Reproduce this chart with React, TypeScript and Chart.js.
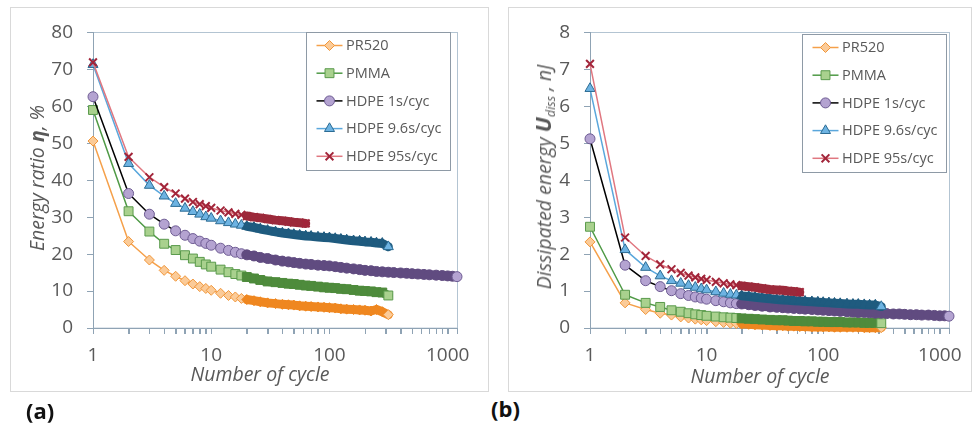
import React, { useEffect, useRef } from "react";
import { Chart, registerables } from "chart.js";
import { drawPoint } from "chart.js/helpers";

Chart.register(...registerables);

// ---------------- DATA ----------------
const SERIES_NAMES = ["PR520", "PMMA", "HDPE 1s/cyc", "HDPE 9.6s/cyc", "HDPE 95s/cyc"];

const CYCLES = [1, 2, 3, 4, 5, 6, 7, 8, 9, 10, 12, 14, 16, 18, 20, 23, 26, 30, 35, 40, 45, 50, 56, 63, 70, 80, 90, 100,
  112, 125, 140, 160, 180, 200, 225, 250, 280, 315, 350, 400, 450, 500, 560, 630, 700, 800, 900, 1000, 1100, 1200];

// Panel (a): energy ratio, %
const ETA_PR520 = [50.6, 23.4, 18.4, 15.6, 14.0, 12.8, 11.9, 11.2, 10.7, 10.2, 9.4, 8.8, 8.4, 8.0, 7.7, 7.4, 7.1, 6.8,
  6.6, 6.4, 6.3, 6.2, 6.0, 5.9, 5.8, 5.7, 5.6, 5.5, 5.4, 5.2, 5.1, 5.0, 4.9, 4.8, 4.6, 5.0, 4.4, 3.6];
const ETA_PMMA = [59.0, 31.6, 26.1, 22.8, 21.1, 19.7, 18.8, 17.9, 17.2, 16.6, 15.8, 15.1, 14.6, 14.2, 13.8, 13.4, 13.0,
  12.6, 12.4, 12.2, 12.0, 11.9, 11.7, 11.5, 11.4, 11.2, 11.0, 10.9, 10.8, 10.6, 10.5, 10.3, 10.1, 10.0, 9.9, 9.7, 9.6, 8.8];
const ETA_HDPE_1 = [62.6, 36.4, 30.8, 28.1, 26.3, 25.1, 24.2, 23.5, 22.9, 22.4, 21.6, 21.0, 20.5, 20.1, 19.8, 19.5, 19.1,
  18.8, 18.4, 18.1, 17.9, 17.7, 17.5, 17.3, 17.2, 17.0, 16.9, 16.8, 16.6, 16.4, 16.2, 16.0, 15.8, 15.6, 15.5, 15.3, 15.2,
  15.1, 15.0, 14.9, 14.8, 14.7, 14.6, 14.5, 14.4, 14.3, 14.2, 14.1, 14.0, 13.9];
const ETA_HDPE_96 = [71.3, 44.5, 38.6, 35.7, 33.7, 32.4, 31.5, 30.8, 30.1, 29.7, 29.0, 28.5, 28.1, 27.8, 27.5, 27.2, 26.8,
  26.4, 26.0, 25.7, 25.5, 25.3, 25.1, 24.9, 24.8, 24.6, 24.5, 24.4, 24.2, 24.0, 23.8, 23.6, 23.5, 23.3, 23.2, 23.0, 22.9, 22.0];
const ETA_HDPE_95 = [71.9, 46.3, 40.8, 38.1, 36.4, 35.0, 34.1, 33.5, 33.0, 32.5, 31.8, 31.3, 30.9, 30.6, 30.3, 30.0, 29.8,
  29.5, 29.2, 29.0, 28.8, 28.6, 28.5, 28.3];

// Panel (b): dissipated energy, nJ
const U_PR520 = [2.33, 0.68, 0.50, 0.40, 0.35, 0.30, 0.27, 0.24, 0.22, 0.20, 0.17, 0.15, 0.13, 0.12, 0.11, 0.10, 0.09, 0.08,
  0.07, 0.06, 0.06, 0.05, 0.05, 0.04, 0.04, 0.03, 0.03, 0.03, 0.03, 0.02, 0.02, 0.02, 0.02, 0.02, 0.01, 0.01, 0.01, 0.01];
const U_PMMA = [2.74, 0.90, 0.68, 0.57, 0.48, 0.44, 0.40, 0.37, 0.35, 0.33, 0.31, 0.29, 0.28, 0.27, 0.26, 0.25, 0.24, 0.23,
  0.22, 0.21, 0.21, 0.20, 0.19, 0.19, 0.18, 0.18, 0.17, 0.17, 0.16, 0.16, 0.16, 0.15, 0.15, 0.15, 0.14, 0.14, 0.14, 0.13];
const U_HDPE_1 = [5.12, 1.70, 1.28, 1.12, 1.01, 0.93, 0.88, 0.84, 0.81, 0.78, 0.74, 0.71, 0.68, 0.66, 0.65, 0.63, 0.61,
  0.59, 0.57, 0.56, 0.55, 0.54, 0.53, 0.52, 0.51, 0.50, 0.49, 0.48, 0.47, 0.46, 0.45, 0.44, 0.43, 0.42, 0.42, 0.41, 0.40,
  0.40, 0.39, 0.38, 0.38, 0.37, 0.36, 0.36, 0.35, 0.35, 0.34, 0.33, 0.33, 0.32];
const U_HDPE_96 = [6.48, 2.12, 1.64, 1.41, 1.28, 1.21, 1.15, 1.10, 1.06, 1.03, 0.98, 0.94, 0.91, 0.89, 0.87, 0.85, 0.83,
  0.81, 0.79, 0.77, 0.76, 0.75, 0.74, 0.73, 0.72, 0.71, 0.70, 0.69, 0.68, 0.67, 0.66, 0.65, 0.64, 0.64, 0.63, 0.62, 0.62, 0.58];
const U_HDPE_95 = [7.15, 2.45, 1.95, 1.72, 1.59, 1.49, 1.42, 1.37, 1.33, 1.30, 1.25, 1.21, 1.18, 1.16, 1.14, 1.12, 1.10,
  1.07, 1.04, 1.03, 1.02, 1.00, 0.99, 0.97];

const Y_TICKS_A = [0, 10, 20, 30, 40, 50, 60, 70, 80];
const Y_TICKS_B = [0, 1, 2, 3, 4, 5, 6, 7, 8];
const X_TICKS = [1, 2, 3, 4, 5, 6, 7, 8, 9, 10, 20, 30, 40, 50, 60, 70, 80, 90, 100, 200, 300, 400, 500, 600, 700, 800, 900,
  1000, 1200];
const X_MIN = 1;
const X_MAX = 1200;

// ---------------- STYLES ----------------
const STYLES = [
  { line: "#F5A04A", border: "#F0963A", fill: "#FBCB98", band: "#EF8720", pointStyle: "rectRot", radius: 5, bw: 1 },
  { line: "#4F9A46", border: "#5A9A4C", fill: "#A9D18E", band: "#4E8B3C", pointStyle: "rect", radius: 6.3, bw: 1 },
  { line: "#000000", border: "#6E5C93", fill: "#B4A3D1", band: "#604B80", pointStyle: "circle", radius: 5, bw: 1 },
  { line: "#5AA7DC", border: "#2C6C94", fill: "#6DB3E2", band: "#1F5B7F", pointStyle: "triangle", radius: 5.8, bw: 1 },
  { line: "#E07780", border: "#A2253A", fill: "#A2253A", band: "#9C2A3B", pointStyle: "crossRot", radius: 5.5, bw: 2 },
];
const BAND_FROM = 20;
const BAND_WIDTH = 9;
const TEXT = "#595959";
const AXIS = "#8FA3B4";
const FONT = '"Open Sans", "DejaVu Sans", sans-serif';

const frameBorderPlugin = {
  id: "frameBorder",
  beforeDraw(chart: any) {
    const { ctx, chartArea: a } = chart;
    ctx.save();
    ctx.strokeStyle = "#B3C4D2";
    ctx.lineWidth = 1;
    ctx.strokeRect(Math.round(a.left) + 0.5, Math.round(a.top) + 0.5, a.right - a.left, a.bottom - a.top);
    ctx.restore();
  },
  beforeDatasetsDraw(chart: any) {
    const { ctx, chartArea: a } = chart;
    const xs = chart.scales.x;
    const ys = chart.scales.y;
    ctx.save();
    ctx.strokeStyle = AXIS;
    ctx.lineWidth = 1;
    ctx.beginPath();
    const bottom = Math.round(a.bottom) + 0.5;
    const left = Math.round(a.left) + 0.5;
    xs.ticks.forEach((t: any) => {
      const px = Math.round(xs.getPixelForValue(t.value)) + 0.5;
      ctx.moveTo(px, bottom);
      ctx.lineTo(px, bottom + 5.5);
    });
    ys.ticks.forEach((t: any) => {
      const py = Math.round(ys.getPixelForValue(t.value)) + 0.5;
      ctx.moveTo(left - 5.5, py);
      ctx.lineTo(left, py);
    });
    ctx.moveTo(left, Math.round(a.top));
    ctx.lineTo(left, bottom);
    ctx.lineTo(Math.round(a.right), bottom);
    ctx.stroke();
    ctx.restore();
  },
};

const boxLegendPlugin = {
  id: "boxLegend",
  afterDraw(chart: any, _args: any, opts: any) {
    const { ctx } = chart;
    const b = opts.box;
    ctx.save();
    ctx.fillStyle = "#FFFFFF";
    ctx.fillRect(b.x, b.y, b.w, b.h);
    ctx.strokeStyle = "#8E9AA6";
    ctx.lineWidth = 1;
    ctx.strokeRect(b.x + 0.5, b.y + 0.5, b.w, b.h);
    chart.data.datasets.forEach((ds: any, i: number) => {
      const st = STYLES[i];
      const y = b.y + 13.5 + i * 27.7;
      ctx.strokeStyle = st.line;
      ctx.lineWidth = 1.5;
      ctx.beginPath();
      ctx.moveTo(b.x + 10.5, y);
      ctx.lineTo(b.x + 36.5, y);
      ctx.stroke();
      ctx.fillStyle = st.fill;
      ctx.strokeStyle = st.border;
      ctx.lineWidth = st.bw;
      drawPoint(ctx, { pointStyle: st.pointStyle, radius: st.radius, rotation: 0, borderWidth: st.bw } as any, b.x + 23.5, y);
      ctx.fillStyle = TEXT;
      ctx.font = `14.5px ${FONT}`;
      ctx.textAlign = "left";
      ctx.textBaseline = "middle";
      ctx.fillText(ds.label, b.x + 40, y + 0.5);
    });
    ctx.restore();
  },
};

type PanelCfg = {
  left: number;
  top: number;
  width: number;
  height: number;
  plotLeft: number;
  plotRight: number;
  plotTop: number;
  plotBottom: number;
  yMax: number;
  yTicks: number[];
  series: number[][];
  legend: { x: number; y: number; w: number; h: number };
};

function ChartPanel({ cfg }: { cfg: PanelCfg }) {
  const ref = useRef<HTMLCanvasElement>(null);
  useEffect(() => {
    const datasets = cfg.series.map((vals, i) => {
      const st = STYLES[i];
      const last = vals.length - 1;
      const inBand = (c: any) => c.p0 && c.p0.parsed.x >= BAND_FROM;
      const banded = (c: any) => c.raw && c.raw.x >= BAND_FROM && c.dataIndex !== last;
      return {
        label: SERIES_NAMES[i],
        data: vals.map((v, k) => ({ x: CYCLES[k], y: v })),
        borderColor: st.line,
        borderWidth: 1.5,
        borderCapStyle: "round",
        borderJoinStyle: "round",
        backgroundColor: st.fill,
        segment: {
          borderColor: (c: any) => (inBand(c) ? st.band : st.line),
          borderWidth: (c: any) => (inBand(c) ? BAND_WIDTH : 1.5),
        },
        pointStyle: st.pointStyle,
        pointRadius: st.radius,
        pointBorderWidth: st.bw,
        pointBackgroundColor: (c: any) => (banded(c) ? st.band : st.fill),
        pointBorderColor: (c: any) => (banded(c) ? st.band : st.border),
        tension: 0,
        fill: false,
        clip: false as any,
        order: 10 - i,
      };
    });
    const chart = new Chart(ref.current!, {
      type: "line",
      data: { datasets: datasets as any },
      options: {
        animation: false,
        responsive: false,
        events: [],
        layout: {
          padding: {
            left: 0,
            top: cfg.plotTop - cfg.top,
            right: cfg.left + cfg.width - cfg.plotRight,
            bottom: 0,
          },
        },
        plugins: {
          legend: { display: false },
          tooltip: { enabled: false },
          boxLegend: {
            box: { x: cfg.legend.x - cfg.left, y: cfg.legend.y - cfg.top, w: cfg.legend.w, h: cfg.legend.h },
          },
        } as any,
        scales: {
          x: {
            type: "logarithmic",
            min: X_MIN,
            max: X_MAX,
            border: { display: true, color: AXIS, width: 1 },
            grid: { drawOnChartArea: false, drawTicks: true, tickLength: 6, tickColor: AXIS },
            afterBuildTicks: (s: any) => {
              s.ticks = X_TICKS.map((v) => ({ value: v }));
            },
            ticks: {
              autoSkip: false,
              maxRotation: 0,
              minRotation: 0,
              padding: 10,
              color: TEXT,
              font: { family: FONT, size: 19 },
              callback: (value: any) => {
                const l = Math.log10(Number(value));
                return Math.abs(l - Math.round(l)) < 1e-9 ? String(Number(value)) : "";
              },
            },
            afterFit: (s: any) => {
              s.height = cfg.top + cfg.height - cfg.plotBottom;
            },
          },
          y: {
            type: "linear",
            min: 0,
            max: cfg.yMax,
            border: { display: true, color: AXIS, width: 1 },
            grid: { drawOnChartArea: false, drawTicks: true, tickLength: 6, tickColor: AXIS },
            afterBuildTicks: (s: any) => {
              s.ticks = cfg.yTicks.map((v) => ({ value: v }));
            },
            ticks: {
              padding: 14,
              color: TEXT,
              font: { family: FONT, size: 19 },
            },
            afterFit: (s: any) => {
              s.width = cfg.plotLeft - cfg.left;
            },
          },
        },
      },
      plugins: [frameBorderPlugin, boxLegendPlugin],
    } as any);
    return () => chart.destroy();
  }, []);
  return (
    <canvas
      ref={ref}
      width={cfg.width}
      height={cfg.height}
      style={{ position: "absolute", left: cfg.left, top: cfg.top, width: cfg.width, height: cfg.height }}
    />
  );
}

const PANEL_A: PanelCfg = {
  left: 10, top: 7, width: 479, height: 385,
  plotLeft: 93, plotRight: 457, plotTop: 28, plotBottom: 328,
  yMax: 80, yTicks: Y_TICKS_A,
  series: [ETA_PR520, ETA_PMMA, ETA_HDPE_1, ETA_HDPE_96, ETA_HDPE_95],
  legend: { x: 306, y: 32, w: 144, h: 138 },
};

const PANEL_B: PanelCfg = {
  left: 508, top: 7, width: 463, height: 385,
  plotLeft: 590, plotRight: 949, plotTop: 28, plotBottom: 328,
  yMax: 8, yTicks: Y_TICKS_B,
  series: [U_PR520, U_PMMA, U_HDPE_1, U_HDPE_96, U_HDPE_95],
  legend: { x: 802, y: 34, w: 144, h: 138 },
};

const frameStyle = (l: number, t: number, w: number, h: number): React.CSSProperties => ({
  position: "absolute", left: l, top: t, width: w, height: h, border: "1.5px solid #D9D9D9", boxSizing: "border-box",
});

const italic: React.CSSProperties = { fontFamily: FONT, fontStyle: "italic", color: TEXT, fontSize: 19.5, whiteSpace: "nowrap" };

export default function App() {
  return (
    <div style={{ position: "absolute", left: 0, top: 0, width: 972, height: 432, background: "#fff", overflow: "hidden" }}>
      <div style={frameStyle(10, 7, 479, 385)} />
      <div style={frameStyle(508, 7, 464, 385)} />
      <ChartPanel cfg={PANEL_A} />
      <ChartPanel cfg={PANEL_B} />
      <div style={{ ...italic, position: "absolute", left: 36, top: 178, transform: "translate(-50%, -50%) rotate(-90deg)" }}>
        Energy ratio <b>η</b>, %
      </div>
      <div style={{ ...italic, position: "absolute", left: 543, top: 177, transform: "translate(-50%, -50%) rotate(-90deg)" }}>
        Dissipated energy <b style={{ fontSize: 22 }}>U</b>
        <sub style={{ fontSize: 12.5, verticalAlign: "-4px" }}>diss</sub> , nJ
      </div>
      <div style={{ ...italic, fontSize: 19.5, position: "absolute", left: 260, top: 373, transform: "translate(-50%, -50%)" }}>
        Number of cycle
      </div>
      <div style={{ ...italic, fontSize: 19.5, position: "absolute", left: 760, top: 375, transform: "translate(-50%, -50%)" }}>
        Number of cycle
      </div>
      <div style={{ position: "absolute", left: 26, top: 395, fontFamily: FONT, fontWeight: 700, fontSize: 22, color: "#111" }}>(a)</div>
      <div style={{ position: "absolute", left: 491, top: 393, fontFamily: FONT, fontWeight: 700, fontSize: 22, color: "#111" }}>(b)</div>
    </div>
  );
}
